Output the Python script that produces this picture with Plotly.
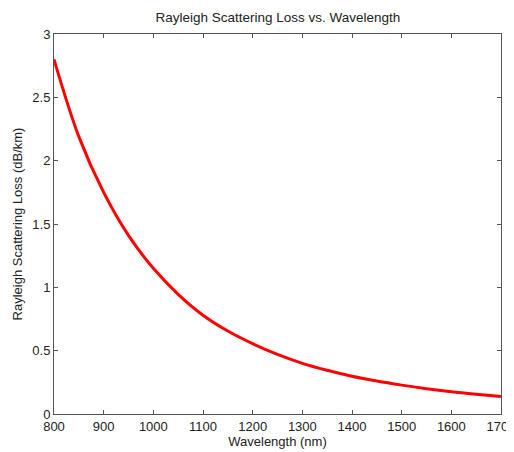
import plotly.graph_objects as go

wavelength_nm = [800, 850, 900, 950, 1000, 1050, 1100, 1150, 1200, 1250, 1300,
                 1350, 1400, 1450, 1500, 1550, 1600, 1650, 1700]
loss_db_km = [2.80, 2.19, 1.75, 1.41, 1.15, 0.945, 0.78, 0.655, 0.555, 0.47, 0.40,
              0.345, 0.298, 0.26, 0.228, 0.20, 0.176, 0.156, 0.138]

x_ticks = [800, 900, 1000, 1100, 1200, 1300, 1400, 1500, 1600, 1700]
y_ticks = [0, 0.5, 1, 1.5, 2, 2.5, 3]
y_labels = ["0", "0.5", "1", "1.5", "2", "2.5", "3"]

FONT = "Arial, Liberation Sans"
TXT = "#222222"

fig = go.Figure()
fig.add_trace(go.Scatter(x=wavelength_nm, y=loss_db_km, mode="lines",
                         line=dict(color="#ff0000", width=3, shape="spline", smoothing=1.0),
                         showlegend=False))

axis_common = dict(showgrid=False, zeroline=False, showline=True, linecolor="#555555",
                   linewidth=1, mirror="ticks", ticks="inside", ticklen=4,
                   tickcolor="#555555", automargin=False, ticklabeloverflow="allow",
                   tickfont=dict(family=FONT, size=13, color=TXT))

fig.update_layout(
    width=514, height=452,
    margin=dict(l=46, r=21, t=26, b=46, autoexpand=False),
    paper_bgcolor="white", plot_bgcolor="white",
    title=dict(text="Rayleigh Scattering Loss vs. Wavelength", x=0.525, xanchor="center",
               y=0.98, yanchor="middle", automargin=False,
               font=dict(family=FONT, size=13.5, color=TXT)),
    xaxis=dict(range=[800, 1700], tickvals=x_ticks, ticktext=[str(v) for v in x_ticks],
               title=dict(text="Wavelength (nm)", standoff=0,
                          font=dict(family=FONT, size=13, color=TXT)),
               ticklabelstandoff=0,
               **axis_common),
    yaxis=dict(range=[0, 3], tickvals=y_ticks, ticktext=y_labels,
               title=dict(text="Rayleigh Scattering Loss (dB/km)", standoff=6,
                          font=dict(family=FONT, size=13, color=TXT)),
               **axis_common),
)

fig.write_html("out.html")
